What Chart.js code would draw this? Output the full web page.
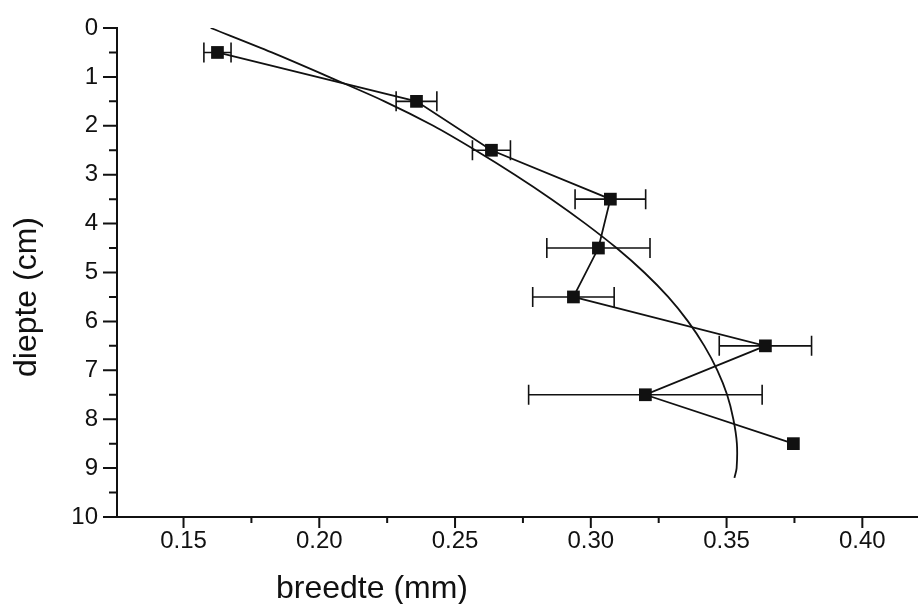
<!DOCTYPE html>
<html>
<head>
<meta charset="utf-8">
<script src="https://cdn.jsdelivr.net/npm/chart.js@4.4.0/dist/chart.umd.min.js"></script>
<style>
html,body{margin:0;padding:0;background:#fff}
#wrap{width:918px;height:604px}
</style>
</head>
<body>
<div id="wrap"><canvas id="c" width="918" height="604"></canvas></div>
<script>
// measured points (depth in cm, width in mm, +/- error on width)
const depths=[0.5,1.5,2.5,3.5,4.5,5.5,6.5,7.5,8.5];
const widths=[0.1625,0.2358,0.2634,0.3072,0.3028,0.2936,0.3643,0.3201,0.3746];
const widthErr=[0.005,0.0075,0.007,0.013,0.019,0.015,0.017,0.043,0];

// fitted curve
const fitDepths=[0,0.5,1,1.5,2,2.5,3,3.5,4,4.5,5,5.5,6,6.5,7,7.5,8,8.5,9,9.2];
const fitWidths=[0.1600,0.1825,0.2035,0.2240,0.2420,0.2575,0.2720,0.2855,0.2980,0.3095,0.3197,0.3285,0.3358,0.3418,0.3466,0.3502,0.3525,0.3538,0.3537,0.3529];

const xTicks=[0.15,0.20,0.25,0.30,0.35,0.40];
const xMinor=[0.175,0.225,0.275,0.325,0.375];
const yTicks=[0,1,2,3,4,5,6,7,8,9,10];
const yMinor=[0.5,1.5,2.5,3.5,4.5,5.5,6.5,7.5,8.5,9.5];

const ink="#111";
const font='"Liberation Sans", Arial, sans-serif';

const decor={
  id:"decor",
  beforeDatasetsDraw(chart){
    const ctx=chart.ctx, x=chart.scales.x, y=chart.scales.y;
    ctx.save();
    ctx.strokeStyle=ink;
    ctx.lineWidth=1.6;
    depths.forEach((d,i)=>{
      const e=widthErr[i];
      if(!e) return;
      const py=y.getPixelForValue(d);
      const x1=x.getPixelForValue(widths[i]-e), x2=x.getPixelForValue(widths[i]+e);
      ctx.beginPath();
      ctx.moveTo(x1,py);ctx.lineTo(x2,py);
      ctx.moveTo(x1,py-10);ctx.lineTo(x1,py+10);
      ctx.moveTo(x2,py-10);ctx.lineTo(x2,py+10);
      ctx.stroke();
    });
    ctx.restore();
  },
  afterDraw(chart){
    const ctx=chart.ctx, x=chart.scales.x, y=chart.scales.y, a=chart.chartArea;
    ctx.save();
    ctx.strokeStyle=ink;
    ctx.lineWidth=2;
    ctx.beginPath();
    yTicks.forEach(v=>{const p=y.getPixelForValue(v);ctx.moveTo(a.left,p);ctx.lineTo(a.left-14,p);});
    yMinor.forEach(v=>{const p=y.getPixelForValue(v);ctx.moveTo(a.left,p);ctx.lineTo(a.left-8,p);});
    xTicks.forEach(v=>{const p=x.getPixelForValue(v);ctx.moveTo(p,a.bottom);ctx.lineTo(p,a.bottom+11);});
    xMinor.forEach(v=>{const p=x.getPixelForValue(v);ctx.moveTo(p,a.bottom);ctx.lineTo(p,a.bottom+6);});
    ctx.stroke();

    ctx.fillStyle=ink;
    ctx.font="32px "+font;
    ctx.textAlign="center";
    ctx.textBaseline="alphabetic";
    ctx.fillText("breedte (mm)",372,598);
    ctx.translate(36,297);
    ctx.rotate(-Math.PI/2);
    ctx.fillText("diepte (cm)",0,0);
    ctx.restore();
  }
};

new Chart(document.getElementById("c"),{
  type:"scatter",
  data:{
    datasets:[
      {
        label:"fit",
        data:fitDepths.map((d,i)=>({x:fitWidths[i],y:d})),
        showLine:true,
        pointRadius:0,
        borderColor:ink,
        borderWidth:1.8,
        tension:0.3
      },
      {
        label:"breedte",
        data:depths.map((d,i)=>({x:widths[i],y:d})),
        showLine:true,
        tension:0,
        borderColor:ink,
        borderWidth:1.8,
        pointStyle:"rect",
        pointRadius:9,
        pointBackgroundColor:ink,
        pointBorderWidth:0
      }
    ]
  },
  options:{
    responsive:false,
    animation:false,
    layout:{autoPadding:false,padding:{top:28,left:0,right:0,bottom:0}},
    plugins:{legend:{display:false},tooltip:{enabled:false}},
    scales:{
      x:{
        type:"linear",
        position:"bottom",
        min:0.1255,
        max:0.4205,
        afterBuildTicks:s=>{s.ticks=xTicks.map(v=>({value:v}));},
        afterFit:s=>{s.height=87;},
        grid:{drawOnChartArea:false,drawTicks:true,tickLength:10,tickColor:"rgba(0,0,0,0)"},
        border:{display:true,color:ink,width:2},
        ticks:{color:ink,font:{family:font,size:24},padding:0,maxRotation:0,callback:v=>v.toFixed(2)}
      },
      y:{
        type:"linear",
        reverse:true,
        min:0,
        max:10,
        afterBuildTicks:s=>{s.ticks=yTicks.map(v=>({value:v}));},
        afterFit:s=>{s.width=117;},
        grid:{drawOnChartArea:false,drawTicks:true,tickLength:19,tickColor:"rgba(0,0,0,0)"},
        border:{display:true,color:ink,width:2},
        ticks:{color:ink,font:{family:font,size:24},padding:0}
      }
    }
  },
  plugins:[decor]
});
</script>
</body>
</html>
